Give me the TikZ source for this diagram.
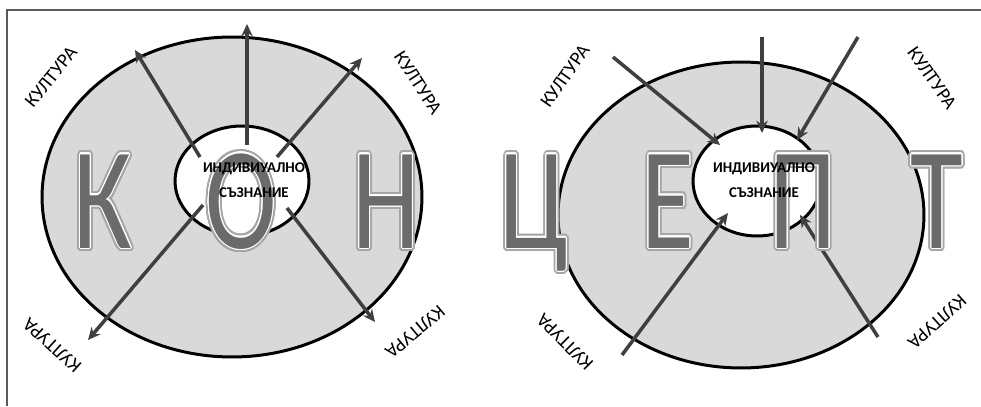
\documentclass[tikz,border=0pt]{standalone}
\usepackage{fontspec}
\setmainfont{Carlito}
\usepackage{contour}
\usetikzlibrary{arrows.meta,shapes.geometric}
\definecolor{ringgray}{HTML}{D9D9D9}
\definecolor{arrowgray}{HTML}{3F3F3F}
\definecolor{lettergray}{HTML}{6B6B6B}
\definecolor{framegray}{HTML}{5A5A5A}
\contournumber{24}
% lettre grise, contour blanc et halo
\newcommand{\konletter}[1]{\scalebox{0.74}[1]{%
  \rlap{\contourlength{2.2pt}\contour{black!35}{\textcolor{black!35}{#1}}}%
  \contourlength{0.6pt}\contour{white}{\textcolor{lettergray}{#1}}}}
\tikzset{
  ring/.style={ellipse, draw, line width=1.7pt, fill=ringgray, inner sep=0pt},
  core/.style={ellipse, draw, line width=1.7pt, fill=white, inner sep=0pt},
  flow/.style={draw=arrowgray, line width=2pt, -{Stealth[length=7pt,width=6.5pt]}},
  kult/.style={font=\fontsize{11}{13}\selectfont},
  coretext/.style={font=\fontsize{8.5}{14.5}\selectfont\bfseries, align=center},
  bigletter/.style={font=\fontsize{83}{90}\selectfont, anchor=base, inner sep=0pt}
}
\begin{document}
\begin{tikzpicture}[x=0.02cm, y=-0.02cm]
\useasboundingbox (0,0) rectangle (981,406);
% cadre
\draw[framegray, line width=0.9pt] (7,406) -- (7,10) -- (981,10);
% anneaux
\node[ring, minimum width=7.6cm, minimum height=6.4cm] (outL) at (232,197) {};
\node[ring, minimum width=7.32cm, minimum height=6.12cm] (outR) at (741,215) {};
\node[core, minimum width=2.68cm, minimum height=2.2cm] (inL) at (242,181) {};
\node[core, minimum width=2.56cm, minimum height=2.2cm] (inR) at (757,181) {};
% fleches vers l'exterieur
\coordinate (sL1) at (247,145); \coordinate (tL1) at (247,24);
\coordinate (sL2) at (200,157); \coordinate (tL2) at (135,50);
\coordinate (sL3) at (277,157); \coordinate (tL3) at (362,58);
\coordinate (sL4) at (203,205); \coordinate (tL4) at (88,340);
\coordinate (sL5) at (287,208); \coordinate (tL5) at (375,322);
\draw[flow] (sL1) -- (tL1);
\draw[flow] (sL2) -- (tL2);
\draw[flow] (sL3) -- (tL3);
\draw[flow] (sL4) -- (tL4);
\draw[flow] (sL5) -- (tL5);
% fleches vers l'interieur
\coordinate (sR1) at (613,57);  \coordinate (tR1) at (720,145);
\coordinate (sR2) at (762,37);  \coordinate (tR2) at (762,133);
\coordinate (sR3) at (858,37);  \coordinate (tR3) at (797,140);
\coordinate (sR4) at (622,355); \coordinate (tR4) at (728,213);
\coordinate (sR5) at (878,337); \coordinate (tR5) at (800,215);
\draw[flow] (sR1) -- (tR1);
\draw[flow] (sR2) -- (tR2);
\draw[flow] (sR3) -- (tR3);
\draw[flow] (sR4) -- (tR4);
\draw[flow] (sR5) -- (tR5);
% grandes lettres
\node[bigletter] (k1) at (103,248) {\konletter{К}};
\node[bigletter] (k2) at (241,248) {\konletter{О}};
\node[bigletter] (k3) at (386,248) {\konletter{Н}};
\node[bigletter] (k4) at (534,248) {\konletter{Ц}};
\node[bigletter] (k5) at (668,248) {\konletter{Е}};
\node[bigletter] (k6) at (803,248) {\konletter{П}};
\node[bigletter] (k7) at (937,248) {\konletter{Т}};
% conscience individuelle
\node[coretext] (txtL) at (254,180) {ИНДИВИУАЛНО\\СЪЗНАНИЕ};
\node[coretext] (txtR) at (764,180) {ИНДИВИУАЛНО\\СЪЗНАНИЕ};
% culture
\node[kult, rotate=51]   (cL1) at (51,77)   {КУЛТУРА};
\node[kult, rotate=-57]  (cL2) at (418,83)  {КУЛТУРА};
\node[kult, rotate=138]  (cL3) at (52,345)  {КУЛТУРА};
\node[kult, rotate=-140] (cL4) at (415,332) {КУЛТУРА};
\node[kult, rotate=55]   (cR1) at (565,76)  {КУЛТУРА};
\node[kult, rotate=-55]  (cR2) at (932,78)  {КУЛТУРА};
\node[kult, rotate=135]  (cR3) at (565,342) {КУЛТУРА};
\node[kult, rotate=-138] (cR4) at (937,322) {КУЛТУРА};
\end{tikzpicture}
\end{document}
